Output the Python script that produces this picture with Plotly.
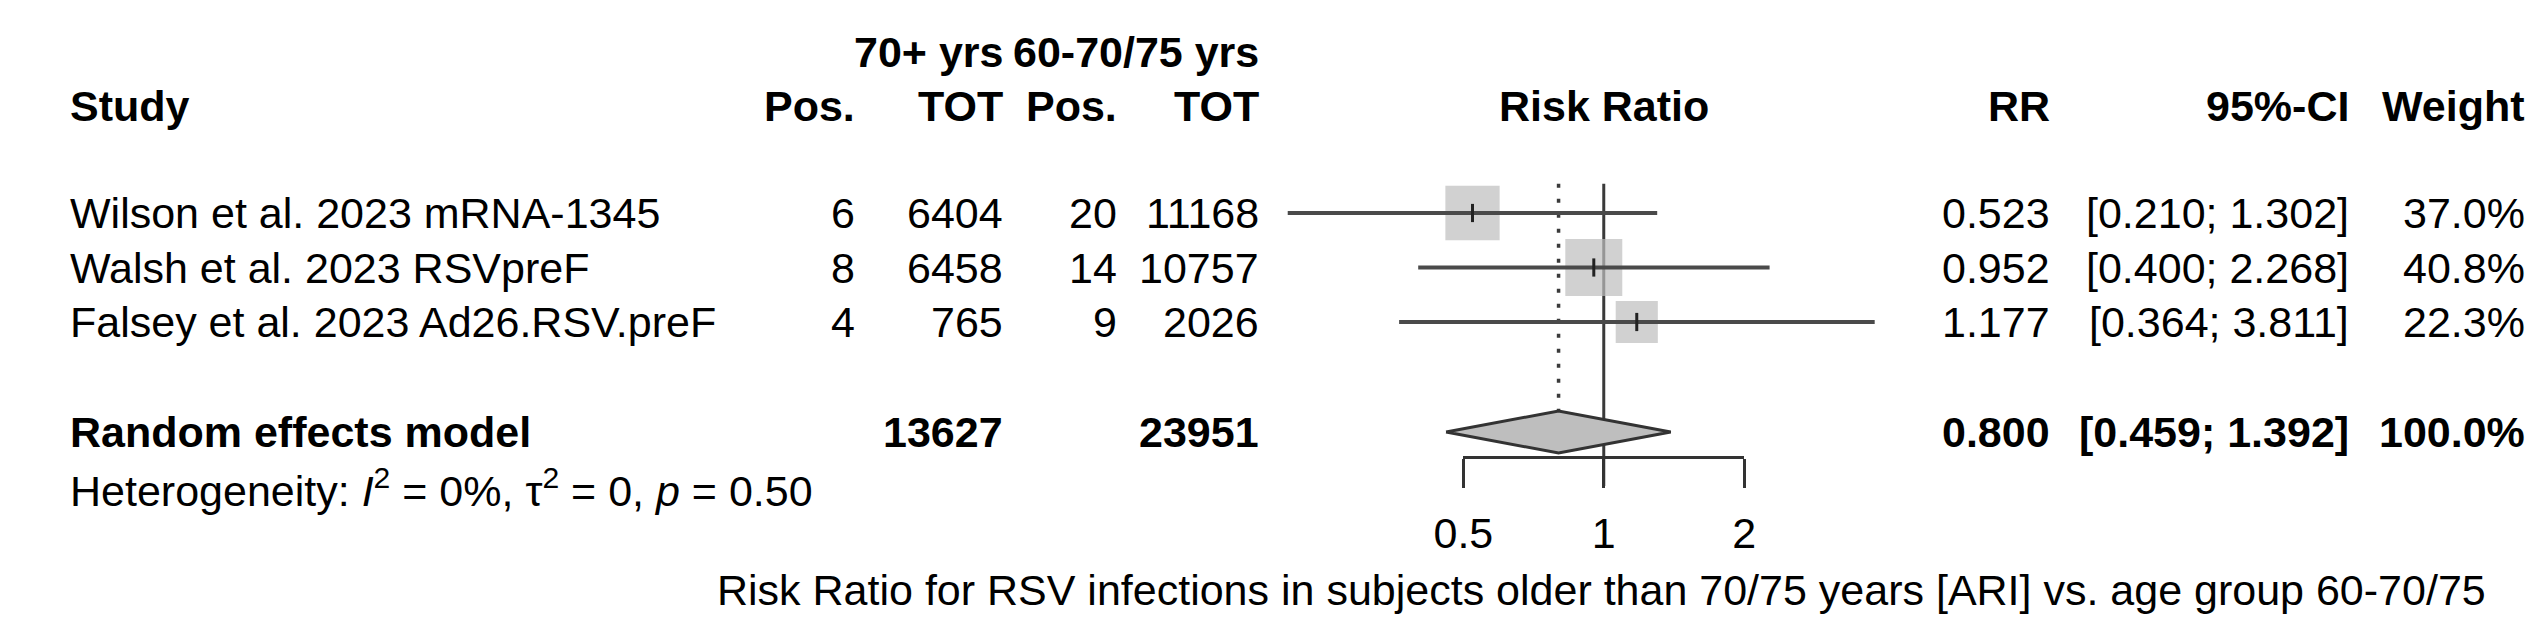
import math
import plotly.graph_objects as go

# ---------------- data ----------------
studies = ["Wilson et al. 2023 mRNA-1345", "Walsh et al. 2023 RSVpreF", "Falsey et al. 2023 Ad26.RSV.preF"]
pos_old = [6, 8, 4]
tot_old = [6404, 6458, 765]
pos_young = [20, 14, 9]
tot_young = [11168, 10757, 2026]
rr = [0.523, 0.952, 1.177]
ci_lo = [0.210, 0.400, 0.364]
ci_hi = [1.302, 2.268, 3.811]
weight = [37.0, 40.8, 22.3]

pooled_label = "Random effects model"
pooled_tot_old = 13627
pooled_tot_young = 23951
pooled_rr = 0.800
pooled_lo = 0.459
pooled_hi = 1.392
pooled_weight = 100.0

het_i2 = "0%"
het_tau2 = "0"
het_p = "0.50"

axis_ticks = [0.5, 1, 2]
axis_ticktext = ["0.5", "1", "2"]
x_label = "Risk Ratio for RSV infections in subjects older than 70/75 years [ARI] vs. age group 60-70/75"

# ---------------- layout constants ----------------
W, H = 2548, 633
FONT = "Liberation Sans"
FS = 43
ROW0, ROWH = 205, 54.5
row_y = [ROW0 + i * ROWH for i in range(len(studies))]
SUM_Y = 424
HET_Y = 480
HDR1_Y, HDR2_Y = 44, 98
X1_PX, PX_PER_DEC = 1592.0, 474.1   # pixel of RR=1 and pixels per decade
x_range = [-X1_PX / PX_PER_DEC, (W - X1_PX) / PX_PER_DEC]
AXIS_Y = 449

def px(x):
    return x / W

fig = go.Figure()

# vertical reference line at RR = 1
top_y = ROW0 - ROWH / 2 - 2
fig.add_trace(go.Scatter(x=[1, 1], y=[top_y, AXIS_Y + 29], mode="lines",
                         line=dict(color="#3a3a3a", width=3), hoverinfo="skip"))
# dotted line at pooled estimate
fig.add_trace(go.Scatter(x=[pooled_rr, pooled_rr], y=[top_y, SUM_Y - 21], mode="lines",
                         line=dict(color="#3a3a3a", width=3.5, dash="4px,11px"), hoverinfo="skip"))

# squares (area proportional to weight)
wmax = max(weight)
sizes = [57 * math.sqrt(w / wmax) for w in weight]
fig.add_trace(go.Scatter(x=rr, y=row_y, mode="markers",
                         marker=dict(symbol="square", size=sizes, color="#BEBEBE",
                                     line=dict(width=0)), hoverinfo="skip"))
# CI lines
for lo, hi, y in zip(ci_lo, ci_hi, row_y):
    fig.add_trace(go.Scatter(x=[lo, hi], y=[y, y], mode="lines",
                             line=dict(color="#4a4a4a", width=4), hoverinfo="skip"))
# point estimate ticks
fig.add_trace(go.Scatter(x=rr, y=row_y, mode="markers",
                         marker=dict(symbol="line-ns", size=13,
                                     line=dict(color="#222", width=3)), hoverinfo="skip"))
# diamond
DH = 21
fig.add_trace(go.Scatter(x=[pooled_lo, pooled_rr, pooled_hi, pooled_rr, pooled_lo],
                         y=[SUM_Y, SUM_Y - DH, SUM_Y, SUM_Y + DH, SUM_Y],
                         mode="lines", fill="toself", fillcolor="#BEBEBE",
                         line=dict(color="#333", width=3), hoverinfo="skip"))
# invisible trace for the tick axis
fig.add_trace(go.Scatter(x=[1], y=[-100], xaxis="x2", yaxis="y", mode="markers",
                         marker=dict(opacity=0), hoverinfo="skip"))

ann = []
def text(x, y, s, anchor="right", bold=False, size=FS):
    ann.append(dict(x=px(x), y=y, xref="paper", yref="y",
                    text=f"<b>{s}</b>" if bold else s, showarrow=False,
                    xanchor=anchor, yanchor="middle",
                    font=dict(family=FONT, size=size, color="black")))

# column right edges (pixels)
C_POS1, C_TOT1, C_POS2, C_TOT2 = 833, 983, 1099, 1244
C_RR, C_CI, C_W = 2048, 2352, 2531
C_STUDY = 30

# headers
text(C_TOT1, HDR1_Y, "70+ yrs", bold=True)
text(C_TOT2, HDR1_Y, "60-70/75 yrs", bold=True)
text(C_STUDY, HDR2_Y, "Study", anchor="left", bold=True)
text(C_POS1, HDR2_Y, "Pos.", bold=True)
text(C_TOT1, HDR2_Y, "TOT", bold=True)
text(C_POS2, HDR2_Y, "Pos.", bold=True)
text(C_TOT2, HDR2_Y, "TOT", bold=True)
text(X1_PX, HDR2_Y, "Risk Ratio", anchor="center", bold=True)
text(C_RR, HDR2_Y, "RR", bold=True)
text(C_CI, HDR2_Y, "95%-CI", bold=True)
text(C_W, HDR2_Y, "Weight", bold=True)

# study rows
for i, y in enumerate(row_y):
    text(C_STUDY, y, studies[i], anchor="left")
    text(C_POS1, y, str(pos_old[i]))
    text(C_TOT1, y, str(tot_old[i]))
    text(C_POS2, y, str(pos_young[i]))
    text(C_TOT2, y, str(tot_young[i]))
    text(C_RR, y, f"{rr[i]:.3f}")
    text(C_CI, y, f"[{ci_lo[i]:.3f}; {ci_hi[i]:.3f}]")
    text(C_W, y, f"{weight[i]:.1f}%")

# pooled row
text(C_STUDY, SUM_Y, pooled_label, anchor="left", bold=True)
text(C_TOT1, SUM_Y, str(pooled_tot_old), bold=True)
text(C_TOT2, SUM_Y, str(pooled_tot_young), bold=True)
text(C_RR, SUM_Y, f"{pooled_rr:.3f}", bold=True)
text(C_CI, SUM_Y, f"[{pooled_lo:.3f}; {pooled_hi:.3f}]", bold=True)
text(C_W, SUM_Y, f"{pooled_weight:.1f}%", bold=True)

# heterogeneity
text(C_STUDY, HET_Y,
     f"Heterogeneity: <i>I</i><sup>2</sup> = {het_i2}, τ<sup>2</sup> = {het_tau2}, <i>p</i> = {het_p}",
     anchor="left")

# x label
text(1590, 582, x_label, anchor="center")

fig.update_layout(
    width=W, height=H, margin=dict(l=0, r=0, t=0, b=0),
    paper_bgcolor="white", plot_bgcolor="rgba(0,0,0,0)", showlegend=False,
    annotations=ann,
    xaxis=dict(type="log", range=x_range, domain=[0, 1], visible=False, fixedrange=True),
    yaxis=dict(range=[H, 0], domain=[0, 1], visible=False, fixedrange=True),
    xaxis2=dict(type="log", domain=[px(X1_PX + PX_PER_DEC * math.log10(axis_ticks[0])),
                                    px(X1_PX + PX_PER_DEC * math.log10(axis_ticks[-1]))],
                range=[math.log10(axis_ticks[0]), math.log10(axis_ticks[-1])],
                anchor="free", position=1 - AXIS_Y / H, side="bottom",
                showline=True, linecolor="#333", linewidth=3,
                ticks="outside", ticklen=29, tickwidth=3, tickcolor="#333",
                tickvals=axis_ticks, ticktext=axis_ticktext,
                tickfont=dict(family=FONT, size=FS, color="black"),
                ticklabelstandoff=8,
                showgrid=False, zeroline=False, fixedrange=True),
)

fig.write_html("out.html")
